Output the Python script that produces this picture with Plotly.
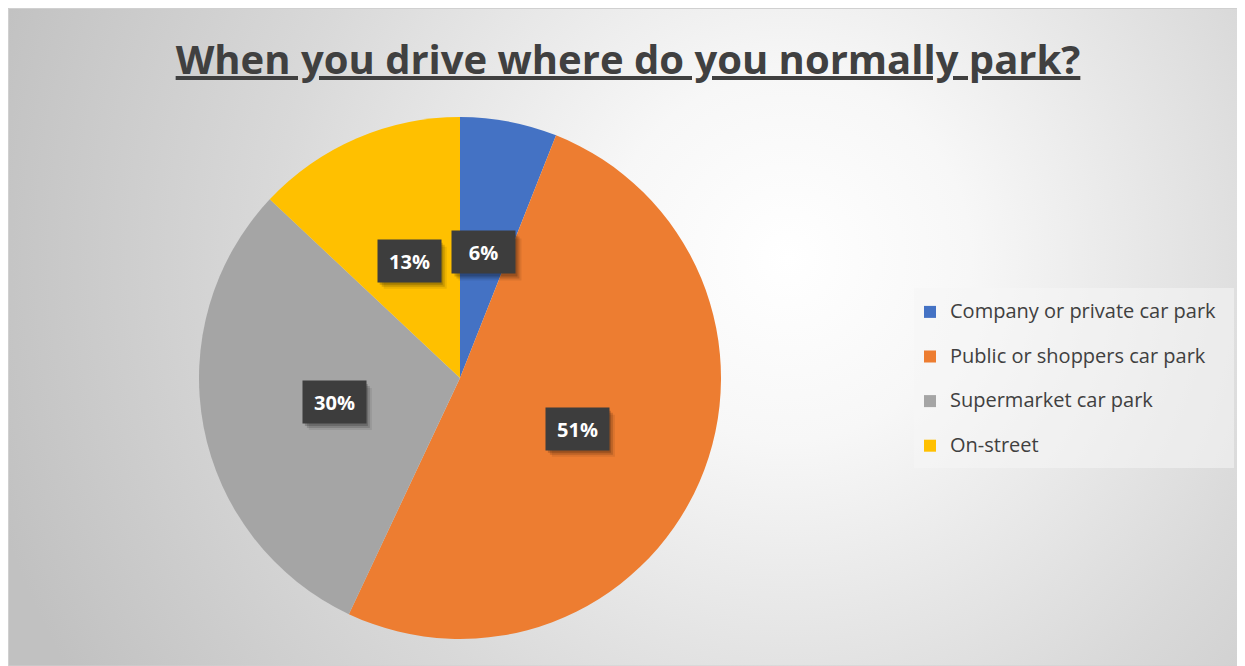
import math
import base64
import plotly.graph_objects as go

categories = ["Company or private car park", "Public or shoppers car park",
              "Supermarket car park", "On-street"]
values = [6, 51, 30, 13]
colors = ["#4472C4", "#ED7D31", "#A5A5A5", "#FFC000"]
title_text = "When you drive where do you normally park?"

# figure size (page body has an 8px margin inside the 1245x666 window)
W, H = 1237, 658
OFF = 8
# pie placement (page pixels, converted to figure pixels)
PCX, PCY, PR = 460 - OFF, 378 - OFF, 261

svg = f'''<svg xmlns="http://www.w3.org/2000/svg" width="{W}" height="{H}" viewBox="0 0 {W} {H}" preserveAspectRatio="none">
<defs><radialGradient id="g" gradientUnits="userSpaceOnUse" cx="780" cy="250" r="830">
<stop offset="0" stop-color="#ffffff"/><stop offset="0.22" stop-color="#f7f7f7"/>
<stop offset="0.62" stop-color="#d9d9d9"/><stop offset="1" stop-color="#c1c1c1"/></radialGradient></defs>
<rect x="0" y="0" width="{W}" height="{H}" fill="url(#g)"/></svg>'''
bg_src = "data:image/svg+xml;base64," + base64.b64encode(svg.encode()).decode()

legend_labels = [f"<span style='font-size:20px'>{c}</span><br>\u00a0" for c in categories]

fig = go.Figure()
fig.add_trace(go.Pie(
    labels=legend_labels,
    values=values,
    sort=False,
    direction="clockwise",
    rotation=0,
    marker=dict(colors=colors, line=dict(width=0)),
    textinfo="none",
    hoverinfo="skip",
    domain=dict(x=[(PCX - PR) / W, (PCX + PR) / W],
                y=[(H - PCY - PR) / H, (H - PCY + PR) / H]),
))

# data labels, placed at the middle angle of each slice
BOX_W, BOX_H, PAD = 63, 42, 8
total = sum(values)
annotations = []
shapes = [
    dict(type="rect", xref="paper", yref="paper", x0=0.5 / W, y0=0, x1=1.01, y1=1 - 0.5 / H,
         line=dict(color="#d0d0d0", width=1), layer="below"),
    # legend panel
    dict(type="rect", xref="paper", yref="paper",
         x0=(914 - OFF) / W, x1=(1234 - OFF) / W,
         y0=1 - (468 - OFF) / H, y1=1 - (288 - OFF) / H,
         fillcolor="rgba(245,245,245,0.55)", line=dict(width=0), layer="below"),
]
cum = 0
for v in values:
    mid = (cum + v / 2) / total * 2 * math.pi
    cum += v
    rr = 0.49 * PR
    px = PCX + rr * math.sin(mid)
    py = PCY - rr * math.cos(mid)
    ax, ay = px / W, 1 - py / H
    # soft drop shadow behind the label box
    for dx, dy, a in ((6, 7, 0.08), (4, 5, 0.14), (2, 3, 0.18)):
        shapes.append(dict(type="rect", xref="paper", yref="paper",
                           xsizemode="pixel", ysizemode="pixel", xanchor=ax, yanchor=ay,
                           x0=-BOX_W / 2 + dx, x1=BOX_W / 2 + dx,
                           y0=-BOX_H / 2 - dy, y1=BOX_H / 2 - dy,
                           fillcolor=f"rgba(0,0,0,{a})", line=dict(width=0), layer="above"))
    annotations.append(dict(x=ax, y=ay, xref="paper", yref="paper",
                            xanchor="center", yanchor="middle", showarrow=False,
                            text=f"<b>{round(v / total * 100)}%</b>",
                            width=BOX_W - 2 * PAD, height=BOX_H - 2 * PAD, borderpad=PAD,
                            align="center", valign="middle", bgcolor="#3d3d3d",
                            font=dict(family="Open Sans", size=20, color="white")))

fig.update_layout(
    width=W, height=H,
    margin=dict(l=0, r=0, t=0, b=0),
    paper_bgcolor="white",
    plot_bgcolor="rgba(0,0,0,0)",
    title=dict(text=f"<b><u>{title_text}</u></b>", x=620 / W, xanchor="center",
               y=1 - 52 / H, yanchor="middle",
               font=dict(family="Open Sans", size=40, color="#404040")),
    images=[dict(source=bg_src, xref="paper", yref="paper", x=0, y=1,
                 sizex=1, sizey=1, xanchor="left", yanchor="top",
                 sizing="stretch", layer="below")],
    shapes=shapes,
    legend=dict(x=(910 - OFF) / W, y=1 - (295 - OFF) / H, xanchor="left", yanchor="top",
                bgcolor="rgba(0,0,0,0)", borderwidth=0,
                font=dict(family="Open Sans", size=16, color="#404040"),
                valign="top", traceorder="normal"),
    annotations=annotations,
)

fig.write_html("out.html")
